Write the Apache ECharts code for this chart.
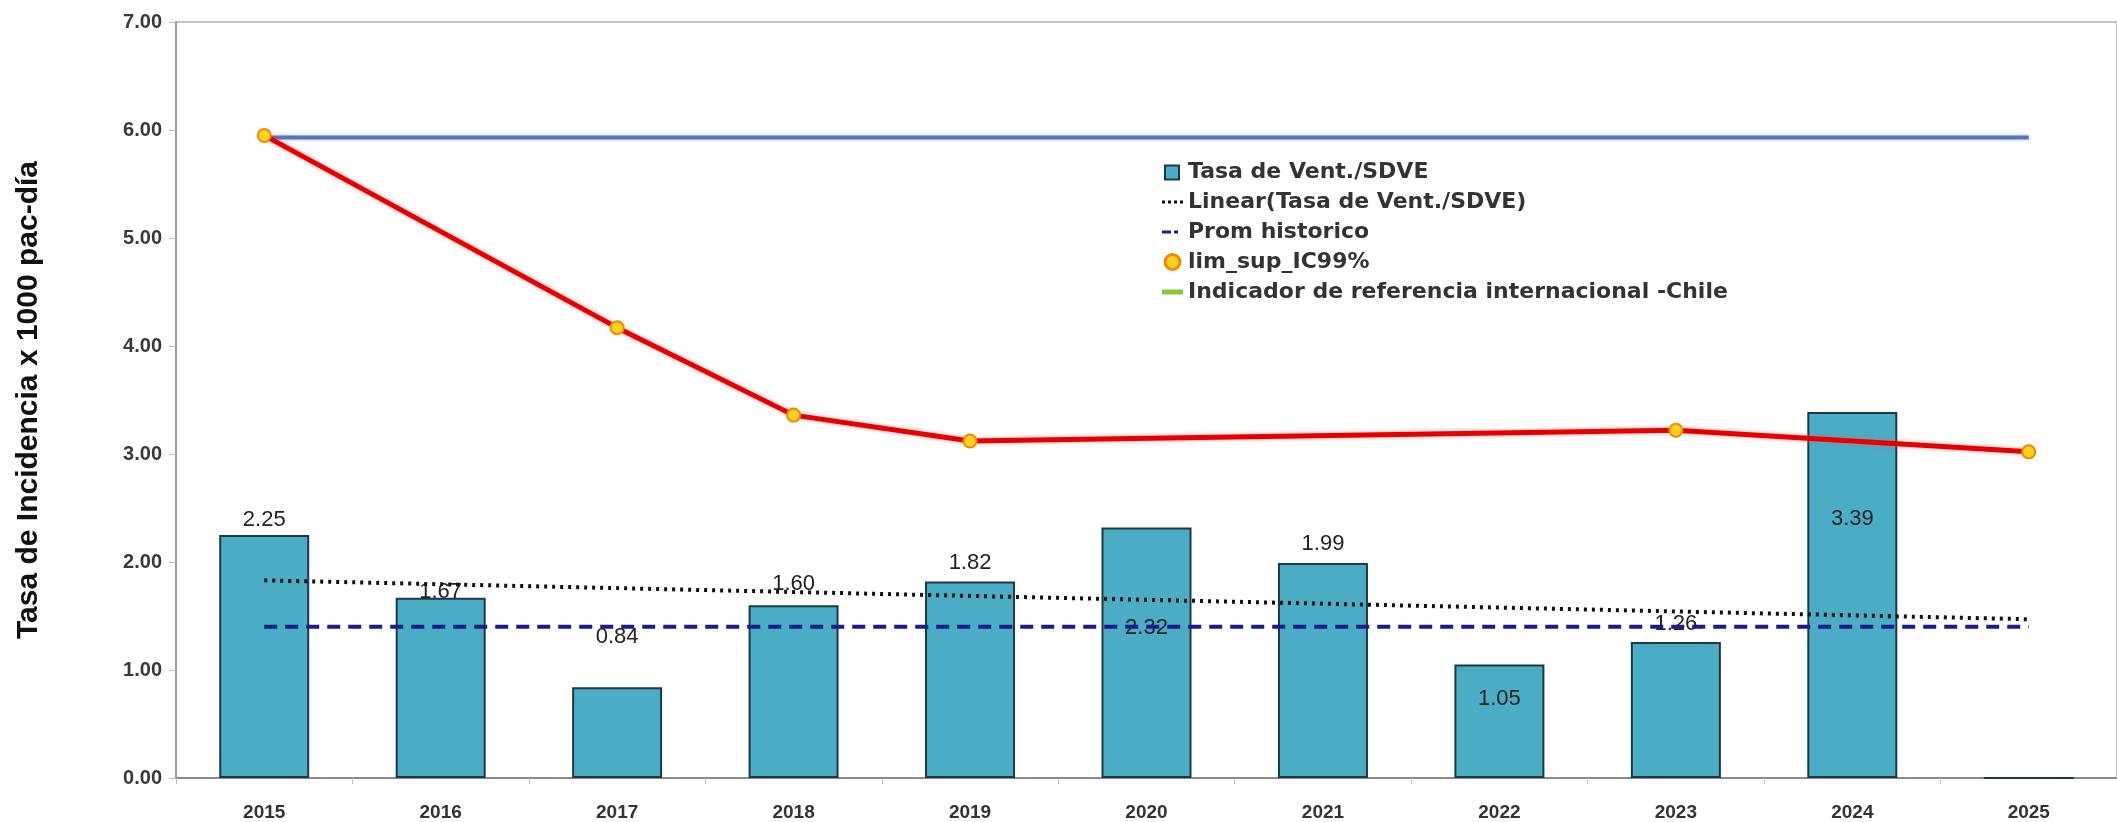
<!DOCTYPE html>
<html>
<head>
<meta charset="utf-8">
<script src="https://cdn.jsdelivr.net/npm/echarts@6/dist/echarts.min.js"></script>
<style>
  html, body { margin: 0; padding: 0; background: #fff; }
  #chart { width: 2117px; height: 822px; }
</style>
</head>
<body>
<div id="chart"></div>
<script>
// datos
const years = ['2015', '2016', '2017', '2018', '2019', '2020', '2021', '2022', '2023', '2024', '2025'];
const tasaVent = [2.25, 1.67, 0.84, 1.60, 1.82, 2.32, 1.99, 1.05, 1.26, 3.39, 0];
const tendencia = [1.83, null, null, null, null, null, null, null, null, null, 1.47];
const promHistorico = [1.40, 1.40, 1.40, 1.40, 1.40, 1.40, 1.40, 1.40, 1.40, 1.40, 1.40];
const limSup = [5.95, null, 4.17, 3.36, 3.12, null, null, null, 3.22, null, 3.02];
const indicadorChile = [5.93, 5.93, 5.93, 5.93, 5.93, 5.93, 5.93, 5.93, 5.93, 5.93, 5.93];

const serieNames = [
  'Tasa de Vent./SDVE',
  'Linear(Tasa de Vent./SDVE)',
  'Prom historico',
  'lim_sup_IC99%',
  'Indicador de referencia internacional -Chile'
];

// desplazamiento vertical de cada etiqueta de barra (px)
const labelDy = [0, 9, -35, -6, -4, 115, -4, 49, -3, 122, 0];

// iconos de leyenda (cuadro / puntos / guiones / barra)
const iconBox = 'path://M0,0L0,0M3,1h14v14h-14zM21,15L21,15';
const iconDots = 'path://M0,0L0,0M0,6h3v3h-3zM6,6h3v3h-3zM12,6h3v3h-3zM18,6h3v3h-3zM21,15L21,15';
const iconDash = 'path://M0,0L0,0M0,6h9v3h-9zM12,6h4v3h-4zM21,15L21,15';
const iconBar = 'path://M0,0L0,0M0,5h21v5h-21zM21,15L21,15';

const chart = echarts.init(document.getElementById('chart'));

const option = {
  backgroundColor: '#fff',
  animation: false,
  grid: {
    left: 176, right: -3, top: 22, bottom: 42,
    show: true, borderColor: '#c4c4c4', borderWidth: 2
  },
  legend: {
    orient: 'vertical',
    left: 1156,
    top: 156,
    itemGap: 8,
    itemWidth: 21,
    itemHeight: 15,
    textStyle: { fontFamily: 'DejaVu Sans', fontWeight: 'bold', fontSize: 22, color: '#333' },
    data: [
      { name: serieNames[0], icon: iconBox },
      { name: serieNames[1], icon: iconDots },
      { name: serieNames[2], icon: iconDash },
      { name: serieNames[3], icon: 'circle',
        itemStyle: { color: '#FFD21F', borderColor: '#F08A00', borderWidth: 3 } },
      { name: serieNames[4], icon: iconBar,
        itemStyle: { color: '#8CC63F', borderWidth: 0 } }
    ]
  },
  xAxis: {
    type: 'category',
    data: years,
    axisLine: { lineStyle: { color: '#8a8a8a', width: 2 } },
    axisTick: { show: true, length: 6, lineStyle: { color: '#bdbdbd' } },
    axisLabel: {
      margin: 25,
      fontFamily: 'Liberation Sans', fontWeight: 'bold', fontSize: 19, color: '#333'
    },
    splitLine: { show: false }
  },
  yAxis: {
    type: 'value',
    min: 0, max: 7, interval: 1,
    name: 'Tasa de Incidencia x 1000 pac-día',
    nameLocation: 'middle',
    nameGap: 132,
    nameTextStyle: {
      fontFamily: 'Liberation Sans',
      fontWeight: 'bold', fontSize: 30, color: '#111'
    },
    axisLine: { show: true, lineStyle: { color: '#9a9a9a', width: 2 } },
    axisTick: { show: true, length: 7, lineStyle: { color: '#bdbdbd' } },
    axisLabel: {
      margin: 14,
      formatter: v => v.toFixed(2),
      fontFamily: 'Liberation Sans', fontWeight: 'bold', fontSize: 20, color: '#3a3a3a'
    },
    splitLine: { show: false }
  },
  series: [
    {
      name: serieNames[0],
      type: 'bar',
      barWidth: 90,
      z: 2,
      itemStyle: { color: '#4BACC6', borderColor: '#1E3846', borderWidth: 2 },
      label: {
        show: true,
        position: 'top',
        distance: 4,
        fontFamily: 'Liberation Sans', fontSize: 22, color: '#222',
        formatter: p => (p.value > 0 ? p.value.toFixed(2) : '')
      },
      data: tasaVent.map((v, i) => ({ value: v, label: { offset: [0, labelDy[i]] } }))
    },
    {
      name: serieNames[1],
      type: 'line',
      data: tendencia,
      connectNulls: true,
      symbol: 'none',
      z: 4,
      itemStyle: { color: '#111' },
      lineStyle: { color: '#111', width: 4, type: [3, 5] }
    },
    {
      name: serieNames[2],
      type: 'line',
      data: promHistorico,
      symbol: 'none',
      z: 4,
      itemStyle: { color: '#1B1B8A' },
      lineStyle: { color: '#1B1B8A', width: 4, type: [13, 8] }
    },
    {
      name: serieNames[3],
      type: 'line',
      data: limSup,
      connectNulls: true,
      symbol: 'circle',
      symbolSize: 13,
      z: 5,
      itemStyle: { color: '#FFD21F', borderColor: '#F08A00', borderWidth: 2 },
      lineStyle: { color: '#E60000', width: 5, shadowColor: 'rgba(255,80,80,0.5)', shadowBlur: 4 }
    },
    {
      name: serieNames[4],
      type: 'line',
      data: indicadorChile,
      symbol: 'none',
      z: 3,
      itemStyle: { color: '#5676B8' },
      lineStyle: { color: '#5676B8', width: 4, shadowColor: 'rgba(120,160,230,0.6)', shadowBlur: 4 }
    }
  ]
};

chart.setOption(option);
</script>
</body>
</html>
